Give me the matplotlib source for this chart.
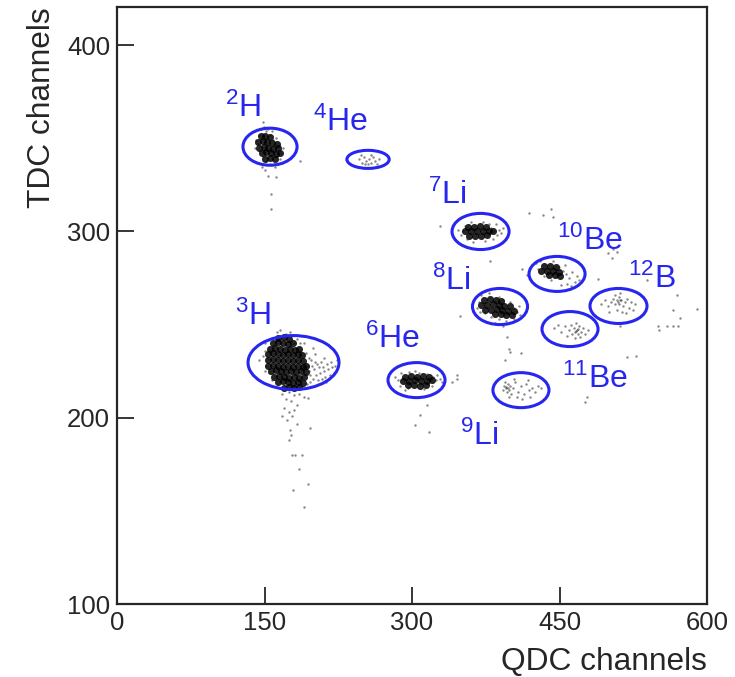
import matplotlib
matplotlib.use("Agg")
import matplotlib.pyplot as plt
from matplotlib.patches import Ellipse
import numpy as np

plt.rcParams['font.family'] = ['Liberation Sans', 'DejaVu Sans']
plt.rcParams['mathtext.fontset'] = 'custom'
plt.rcParams['mathtext.rm'] = 'Liberation Sans'
plt.rcParams['mathtext.it'] = 'Liberation Sans:italic'

# QDC / TDC points, grouped per isotope blob
# "core" = dense black centre, "halo" = the loose dots around it
h2_core = [(146, 351), (151, 351.5), (156, 350.5), (143, 348), (148, 348.5), (153, 348),
           (158, 347.5), (163, 347), (144, 345), (149, 345.5), (154, 345), (159, 344.5), (164, 345),
           (147, 342), (152, 342.5), (157, 342), (162, 341.5), (166, 342), (151, 339), (156, 339.5),
           (161, 339)]
h2_halo = [(144, 352), (146, 355), (149, 356), (152, 354), (156, 352), (159, 349), (163, 346),
           (165, 343), (166, 339), (164, 336), (160, 336), (156, 336), (152, 338), (148, 340),
           (145, 343), (143, 347), (148, 359), (158, 354), (162, 350), (151, 341), (147.5, 334.4),
           (160.7, 334.4), (153.5, 330), (161.7, 329), (156.6, 320), (156.6, 311.8), (186, 337.6),
           (150, 333), (141, 349), (167, 342), (168, 337), (140, 345), (169, 345), (154, 355)]

h3_core = [(164, 243), (170, 243.5), (175, 242.5),
           (159, 240), (164, 240.5), (169, 240), (174, 239.5), (179, 240),
           (156, 237), (161, 237.5), (166, 237), (171, 236.5), (176, 237), (181, 236.5), (185, 237),
           (154, 234), (159, 234.5), (164, 234), (169, 233.5), (174, 234), (179, 233.5), (184, 234),
           (188, 233.5),
           (154, 231), (159, 231.5), (164, 231), (169, 230.5), (174, 231), (179, 230.5), (184, 231),
           (189, 230.5),
           (154, 228), (159, 228.5), (164, 228), (169, 227.5), (174, 228), (179, 227.5), (184, 228),
           (189, 227.5), (192, 228),
           (157, 225), (162, 225.5), (167, 225), (172, 224.5), (177, 225), (182, 224.5), (187, 225),
           (192, 224.5),
           (160, 222), (165, 222.5), (170, 222), (175, 221.5), (180, 222), (185, 221.5), (190, 222),
           (164, 219), (169, 219.5), (174, 219), (179, 218.5), (184, 219), (189, 218.5),
           (170, 216), (175, 216.5), (180, 216), (185, 216.5)]
h3_halo = [(194, 228), (197, 231), (200, 226), (203, 229), (206, 224), (209, 227), (212, 222),
           (215, 226), (218, 230), (221, 224), (199, 221), (204, 220), (210, 232), (213, 219),
           (217, 223), (196, 223), (201, 234), (207, 230), (199, 237.6), (166, 247), (192, 235),
           (190, 240), (150, 236), (152, 228), (155, 224), (158, 220), (153, 232), (151, 240),
           (163, 246), (172, 245), (180, 240), (186, 236), (190, 228), (193, 218), (189, 216),
           (170, 216), (175, 214), (180, 212), (185, 213), (190, 211), (168, 213), (172, 210),
           (177, 209), (183, 207), (170, 205), (175, 203), (180, 204), (168, 201), (173, 199),
           (178, 201), (194, 210.7), (183, 196.8), (196, 194.6), (176, 193.5), (177, 190.9),
           (175, 188), (181, 180), (178, 180), (188, 180), (185, 172.6), (194, 164.5), (179, 161),
           (190, 152), (224, 231), (144, 231), (195, 225), (198, 228), (202, 223), (205, 227),
           (208, 221), (211, 225), (214, 229), (216, 221), (219, 227), (222, 228), (196, 219),
           (201, 230), (195, 232), (148, 233), (150, 225), (186, 240), (183, 242), (176, 246)]

he4_halo = [(246, 339), (249, 337), (251, 340), (253, 338), (255, 336), (256, 339), (258, 337),
            (260, 340), (262, 338), (264, 336), (266, 339), (252, 336), (258, 341), (248, 341)]

he6_core = [(293, 222), (299, 222.5), (305, 222), (311, 222.5), (317, 222), (291, 219.5),
            (297, 219.5), (303, 220), (309, 219.5), (315, 219.5), (320, 220), (296, 217.5),
            (302, 217.5), (308, 217), (314, 217.5)]
he6_halo = [(286, 220), (283, 222), (289, 224), (297, 224.5), (307, 224), (315, 223.5), (321, 222),
            (324, 220), (328, 221), (331, 219), (320, 217), (312, 215.5), (296, 216), (288, 217),
            (325, 223), (303, 225), (293, 215), (340.7, 219.4), (345.7, 223), (345.7, 221),
            (315, 207), (308, 201.6), (303, 196), (317, 192.5)]

li7_core = [(357, 302.5), (363, 302.5), (369, 303), (375, 302.5), (354, 300), (360, 300),
            (366, 300.5), (372, 300), (378, 300), (382, 300.5), (358, 297.5), (364, 297.5),
            (370, 297.5), (376, 298)]
li7_halo = [(352, 300), (354, 303), (350, 298), (356, 296), (380, 302), (383, 300), (386, 298),
            (382, 296), (388, 301), (391, 299), (393, 302), (360, 305), (372, 305), (378, 304),
            (362, 294.5), (374, 295), (385, 304), (347, 301), (328.5, 302.7), (379, 284.4)]

li8_core = [(373, 263), (379, 263.5), (385, 263), (391, 262.5), (370, 260.5), (376, 260.5),
            (382, 261), (388, 260.5), (394, 260), (400, 260), (374, 258), (380, 258),
            (386, 258.5), (392, 258), (398, 257.5), (404, 257.5), (384, 255.5), (390, 255.5),
            (396, 255), (402, 255)]
li8_halo = [(368, 262), (366, 259), (370, 266), (378, 267), (388, 265), (400, 262), (404, 259),
            (407, 257), (409, 260), (404, 253), (396, 252), (388, 253), (380, 254), (374, 256),
            (410, 255), (393, 263), (384, 251), (369, 257), (349, 254.8), (392.5, 249),
            (396.6, 243.5), (398.7, 237), (410.8, 235), (394.5, 231), (399.7, 235.5)]

li9_halo = [(394, 217), (396, 216), (398, 218), (397, 214), (399, 215), (395, 219), (400, 217),
            (393, 215), (401, 213), (403, 216), (405, 219), (408, 214), (411, 217), (414, 213),
            (416, 218), (419, 215), (422, 216), (425, 214), (428, 217), (431, 216), (407, 211),
            (412, 210), (420, 211), (399, 211), (404, 221), (418, 220), (396, 216.5), (398, 216)]

be10_core = [(434, 281.5), (440, 281.5), (446, 281), (431, 279), (437, 279), (443, 279),
             (449, 278.5), (439, 276.5), (445, 276.5), (451, 276)]
be10_halo = [(428, 280), (426, 283), (430, 284), (443, 284), (449, 281), (454, 279), (457, 277),
             (460, 275), (463, 278), (466, 273), (458, 272), (452, 271.5), (462, 270.5), (468, 276),
             (456, 282), (434, 276), (441, 274), (470, 274), (419, 309.7), (433, 308.6),
             (441, 311.8), (443.4, 307.5), (412, 280), (417, 276.5), (489, 274.7), (499, 288.7),
             (503, 286), (508.5, 289.2), (504, 290.8)]

be11_halo = [(444, 248), (448, 250), (452, 246), (456, 249), (460, 247), (463, 245), (465, 248),
             (466, 246), (468, 247), (469, 245), (470, 249), (472, 246), (474, 248), (471, 243.5),
             (466, 243), (462, 250), (476, 245), (479, 247), (458, 244), (467, 251), (467, 246.5),
             (469, 247.5), (518.6, 232.8), (527.8, 233.3), (478, 211), (476, 208.6)]

b12_halo = [(492, 261), (496, 263), (499, 260), (502, 262), (504, 264), (506, 261), (508, 263),
            (510, 265), (511, 261), (513, 263), (515, 260), (517, 262), (519, 264), (521, 259),
            (523, 262), (525, 258), (514, 257), (508, 258), (500, 257), (518, 256), (512, 267),
            (506, 266), (527, 261), (509, 262), (512, 263), (539, 274), (569.5, 266), (590, 258.6),
            (565, 258), (572.5, 253.8), (550, 249), (559, 249), (565, 249), (570.5, 249.5),
            (551, 247), (511.5, 249)]

# gate ellipses: centre (QDC, TDC), full width, full height
gate_centers = [(155.6, 345.5), (255.3, 338.7), (369.7, 300.0), (447.5, 277.2), (389.5, 259.7),
                (510.0, 260.0), (179.5, 229.6), (304.6, 220.2), (460.7, 247.6), (410.8, 214.8)]
gate_widths = [55, 43, 58, 57, 56, 58, 92.5, 58, 57, 57]
gate_heights = [19.9, 9.7, 19.4, 18.8, 19.4, 18.8, 29, 18.8, 18.8, 18.8]

isotopes = [r'$^{\mathrm{2}}$H', r'$^{\mathrm{4}}$He', r'$^{\mathrm{7}}$Li', r'$^{\mathrm{10}}$Be',
            r'$^{\mathrm{12}}$B', r'$^{\mathrm{8}}$Li', r'$^{\mathrm{3}}$H', r'$^{\mathrm{6}}$He',
            r'$^{\mathrm{11}}$Be', r'$^{\mathrm{9}}$Li']
label_xy = [(109.8, 361.3), (199.3, 353.8), (316.3, 314.5), (447.4, 290.3), (519.6, 269.9),
            (320.3, 268.8), (120.0, 250.0), (252.2, 237.6), (452.5, 216.1), (348.8, 185.5)]

BLUE = '#2626f0'
INK = '#262626'

fig = plt.figure(figsize=(7.35, 6.77), dpi=100)
ax = fig.add_axes([117 / 735, 1 - 604 / 677, 590 / 735, 597 / 677])

cores = [h2_core, h3_core, he6_core, li7_core, li8_core, be10_core]
halos = [h2_halo, h3_halo, he4_halo, he6_halo, li7_halo, li8_halo, li9_halo,
         be10_halo, be11_halo, b12_halo]

for pts in cores:
    p = np.array(pts)
    ax.scatter(p[:, 0], p[:, 1], s=26, color='#000000', alpha=0.85, linewidths=0, zorder=2)
for pts in halos:
    p = np.array(pts)
    ax.scatter(p[:, 0], p[:, 1], s=3, color='#111111', alpha=0.5, linewidths=0, zorder=2)

for (cx, cy), w, h in zip(gate_centers, gate_widths, gate_heights):
    ax.add_patch(Ellipse((cx, cy), w, h, fill=False, edgecolor=BLUE, linewidth=2.2, zorder=3))

for txt, (tx, ty) in zip(isotopes, label_xy):
    ax.text(tx, ty, txt, color=BLUE, fontsize=23, ha='left', va='baseline', zorder=4)

ax.set_xlim(0, 600)
ax.set_ylim(100, 420.5)
ax.set_xticks([0, 150, 300, 450, 600])
ax.set_yticks([100, 200, 300, 400])
ax.tick_params(direction='in', length=12, width=1.3, color=INK, labelcolor=INK,
               labelsize=18.5, pad=5)
for sp in ax.spines.values():
    sp.set_linewidth(1.6)
    sp.set_color(INK)

ax.set_xlabel('QDC channels', fontsize=22.8, color=INK, loc='right', labelpad=9)
ax.set_ylabel('TDC channels', fontsize=22.8, color=INK, loc='top', labelpad=7)

fig.savefig('out.png', dpi=100)
